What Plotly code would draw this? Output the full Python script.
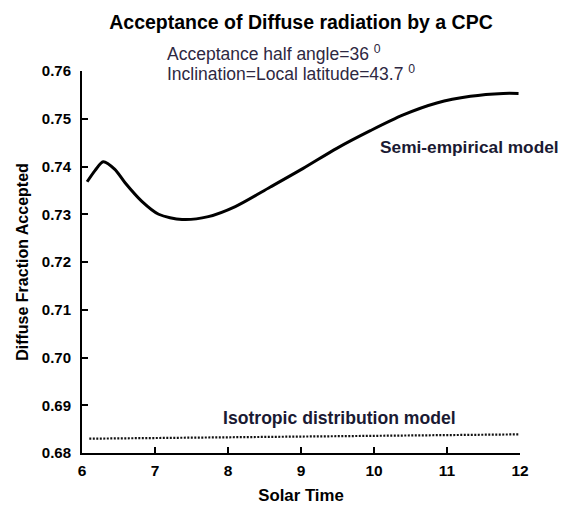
import plotly.graph_objects as go

# Data
semi_x = [6.07, 6.18, 6.29, 6.45, 6.59, 6.82, 7.05, 7.37, 7.73, 8.10, 8.58,
          9.03, 9.49, 9.95, 10.40, 10.86, 11.32, 11.77, 11.98]
semi_y = [0.7368, 0.7392, 0.7410, 0.7394, 0.7366, 0.7327, 0.7300, 0.7289,
          0.7295, 0.7316, 0.7357, 0.7396, 0.7438, 0.7475, 0.7508, 0.7533,
          0.7547, 0.7553, 0.7553]

iso_x = [6.1, 9.0, 11.98]
iso_y = [0.6830, 0.6834, 0.6839]

x_ticks = [6, 7, 8, 9, 10, 11, 12]
y_ticks = [0.68, 0.69, 0.70, 0.71, 0.72, 0.73, 0.74, 0.75, 0.76]

FONT = "Liberation Sans, Arial, sans-serif"
OFF = 8  # default page body margin
W, H = 570 - OFF, 505 - OFF
L, R, T, B = 82 - OFF, 50, 71 - OFF, 52

fig = go.Figure()
fig.add_trace(go.Scatter(x=semi_x, y=semi_y, mode="lines",
                         line=dict(color="black", width=3, shape="spline", smoothing=0.8),
                         showlegend=False, hoverinfo="skip"))
fig.add_trace(go.Scatter(x=iso_x, y=iso_y, mode="lines",
                         line=dict(color="#111111", width=2.2, dash="2px,1.5px"),
                         showlegend=False, hoverinfo="skip"))

pw = W - L - R
ph = H - T - B


def px(xp):
    return (xp - OFF - L) / pw


def py(yp):
    return (H - B - (yp - OFF)) / ph


sub_col = "#2e2842"
lab_col = "#1a1a33"
annots = [
    dict(text="Acceptance half angle=36 <sup>0</sup>", x=px(165), y=py(53),
         font=dict(size=17.5, color=sub_col, family=FONT)),
    dict(text="Inclination=Local latitude=43.7 <sup>0</sup>", x=px(165), y=py(73),
         font=dict(size=17.5, color=sub_col, family=FONT)),
    dict(text="<b>Semi-empirical model</b>", x=px(378), y=py(147),
         font=dict(size=17.3, color=lab_col, family=FONT)),
    dict(text="<b>Isotropic distribution model</b>", x=px(221), y=py(418),
         font=dict(size=17.6, color=lab_col, family=FONT)),
]
for a in annots:
    a.update(xref="paper", yref="paper", xanchor="left", yanchor="middle",
             showarrow=False)

fig.update_layout(
    width=W, height=H,
    margin=dict(l=L, r=R, t=T, b=B, autoexpand=False),
    paper_bgcolor="white", plot_bgcolor="white",
    font=dict(family=FONT, color="black"),
    title=dict(text="<b>Acceptance of Diffuse radiation by a CPC</b>",
               x=(L + pw / 2) / W, xanchor="center",
               y=1 - (22 - OFF) / H, yanchor="middle", yref="container",
               font=dict(size=19.5, color="black", family=FONT)),
    annotations=annots,
    xaxis=dict(range=[6, 12], tickvals=x_ticks, ticktext=[str(v) for v in x_ticks],
               showline=True, linecolor="black", linewidth=2,
               ticks="inside", ticklen=6, tickwidth=2, tickcolor="black",
               showgrid=False, zeroline=False, automargin=False,
               ticklabelstandoff=2,
               tickfont=dict(size=15.5, family=FONT, color="black", weight="bold"),
               title=dict(text="<b>Solar Time</b>", standoff=20,
                          font=dict(size=16.8, family=FONT, color="black"))),
    yaxis=dict(range=[0.68, 0.76], tickvals=y_ticks,
               ticktext=[f"{v:.2f}" for v in y_ticks],
               showline=True, linecolor="black", linewidth=2,
               ticks="inside", ticklen=6, tickwidth=2, tickcolor="black",
               showgrid=False, zeroline=False, automargin=False,
               ticklabelstandoff=6,
               tickfont=dict(size=15, family=FONT, color="black", weight="bold"),
               title=dict(text="<b>Diffuse Fraction Accepted</b>", standoff=9,
                          font=dict(size=16, family=FONT, color="black"))),
)

fig.write_html("out.html")
